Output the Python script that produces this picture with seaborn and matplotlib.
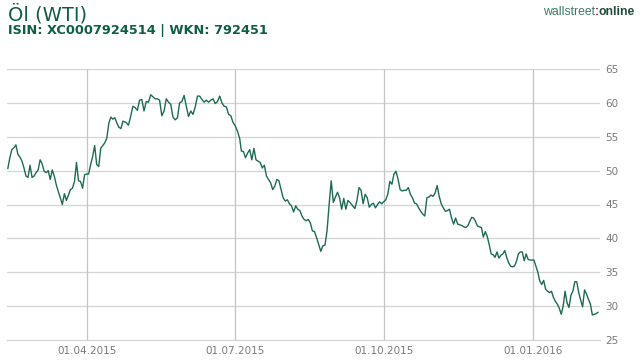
import matplotlib
matplotlib.use("Agg")
import matplotlib.pyplot as plt
import seaborn as sns
import pandas as pd

# ---- data, in five stretches of dates ----
seg_starts = ["2015-02-11", "2015-04-25", "2015-07-05", "2015-09-13", "2015-11-24"]
seg_ends = ["2015-04-23", "2015-07-04", "2015-09-10", "2015-11-23", "2016-02-10"]
prices_1 = [
    50.3, 51.9, 53.1, 53.35, 53.8, 52.4, 52.0, 51.4, 50.4, 49.2, 49.0, 50.8, 49.0, 49.2, 49.7,
    50.1, 51.6, 51.0, 49.9, 49.7, 50.0, 48.7, 50.1, 49.2, 47.9, 46.9, 46.0, 45.0, 46.6, 45.6,
    46.4, 47.2, 47.4, 48.4, 51.2, 48.5, 48.4, 47.4, 49.4, 49.5, 49.5, 50.9, 52.1, 53.7, 50.9,
    50.6, 53.3, 53.7, 54.1, 54.8, 57.0, 57.9, 57.6, 57.8, 57.0, 56.4, 56.2, 57.3,
]
prices_2 = [
    57.1, 56.7, 58.0, 59.5, 59.3, 58.9, 60.4, 60.5, 58.8, 60.2, 60.1, 61.2, 60.9, 60.6, 60.6,
    60.4, 58.1, 58.8, 60.6, 60.1, 59.8, 57.9, 57.5, 57.8, 60.0, 60.2, 61.1, 59.5, 58.0, 58.8,
    58.3, 59.4, 61.0, 61.0, 60.5, 60.1, 60.4, 60.1, 60.4, 60.6, 59.9, 60.2, 61.0, 60.0, 59.5,
    59.4, 58.3, 58.1, 57.1, 56.6, 55.8, 54.7,
]
prices_3 = [
    52.9, 52.8, 51.9, 52.6, 53.1, 51.6, 53.3, 51.6, 51.4, 51.2, 50.4, 50.8, 49.2, 48.7, 48.2,
    47.2, 47.7, 48.7, 48.5, 47.2, 46.0, 45.5, 45.7, 45.1, 44.8, 43.9, 44.8, 44.3, 44.1, 43.3,
    42.8, 42.6, 42.8, 42.3, 41.1, 41.0, 40.1, 39.1, 38.1, 38.9, 39.0, 41.1, 45.0, 48.5, 45.3,
    46.1, 46.8, 46.0, 44.3, 45.9, 44.3, 45.6, 45.3,
]
prices_4 = [
    44.4, 45.6, 47.5, 47.1, 45.1, 46.5, 46.0, 44.6, 45.0, 45.2, 44.5, 45.0, 45.4, 45.1, 45.4,
    45.7, 46.5, 48.4, 48.0, 49.5, 49.9, 48.7, 47.2, 47.0, 47.1, 47.1, 47.5, 46.5, 46.0, 45.2,
    45.1, 44.5, 44.0, 43.6, 43.3, 46.0, 46.1, 46.4, 46.2, 46.7, 47.8, 46.2, 45.1, 44.5, 44.0,
    44.1, 44.3, 43.0, 42.1, 43.0, 42.1, 42.0, 41.9, 41.7, 41.6, 41.9, 42.6,
]
prices_5 = [
    43.1, 43.0, 42.5, 41.8, 41.7, 41.6, 40.2, 41.0, 40.3, 39.1, 37.7, 37.6, 37.2, 38.0, 37.1,
    37.5, 37.7, 38.2, 37.2, 36.4, 35.9, 35.8, 35.9, 36.6, 37.7, 38.0, 38.0, 36.7, 37.7, 36.9,
    36.8, 36.8, 36.8, 35.9, 35.0, 33.7, 33.2, 33.8, 32.5, 32.2, 32.0, 32.2, 31.3, 30.7, 30.3,
    29.7, 28.8, 30.0, 32.2, 30.5, 29.8, 31.6, 32.2, 33.6, 33.6, 32.0, 30.9, 29.9, 32.4, 31.8,
    31.0, 30.3, 28.7, 28.8, 28.9, 29.1,
]
segments = [prices_1, prices_2, prices_3, prices_4, prices_5]

frames = []
for s, e, vals in zip(seg_starts, seg_ends, segments):
    frames.append(pd.DataFrame({"Datum": pd.date_range(s, e, periods=len(vals)), "Kurs": vals}))
df = pd.concat(frames, ignore_index=True)

y_ticks = [25, 30, 35, 40, 45, 50, 55, 60, 65]
x_ticks = ["2015-04-01", "2015-07-01", "2015-10-01", "2016-01-01"]
x_tick_labels = ["01.04.2015", "01.07.2015", "01.10.2015", "01.01.2016"]
title = "Öl (WTI)"
subtitle = "ISIN: XC0007924514 | WKN: 792451"

# ---- styling ----
sns.set_theme(style="white")
plt.rcParams["font.family"] = ["DejaVu Sans"]

GREEN = "#0e5e45"
LINE = "#1d6b55"
GRID = "#d4d4d4"
VGRID = "#c4c4c4"
TICK = "#7a7a7a"

fig = plt.figure(figsize=(6.44, 3.60), dpi=100)
ax = fig.add_axes([7 / 644, 20 / 360, 593 / 644, 271 / 360])

sns.lineplot(data=df, x="Datum", y="Kurs", ax=ax, color=LINE, linewidth=1.0)

ax.set_ylim(25, 65)
ax.set_xlim(pd.Timestamp("2015-02-10 12:00"), pd.Timestamp("2016-02-11 03:00"))

ax.set_yticks(y_ticks)
ax.yaxis.tick_right()
ax.tick_params(axis="y", length=0, pad=4, labelsize=7.5, labelcolor=TICK)
ax.set_xticks(pd.to_datetime(x_ticks))
ax.set_xticklabels(x_tick_labels)
ax.tick_params(axis="x", length=0, pad=4, labelsize=7.5, labelcolor=TICK)
ax.set_xlabel("")
ax.set_ylabel("")

ax.grid(False)
for v in y_ticks[1:]:
    ax.axhline(v, color=GRID, linewidth=0.9, zorder=0)
for d in x_ticks:
    ax.axvline(pd.Timestamp(d), color=VGRID, linewidth=0.9, zorder=0)

for s in ["top", "right", "left"]:
    ax.spines[s].set_visible(False)
ax.spines["bottom"].set_color(GRID)
ax.spines["bottom"].set_linewidth(0.9)

# ---- header ----
fig.text(8 / 644, 1 - 14 / 360, title, fontsize=14, color=GREEN, va="center", ha="left")
fig.text(8 / 644, 1 - 30.5 / 360, subtitle, fontsize=9.3, color=GREEN, va="center",
         ha="left", fontweight="bold")

# logo: wallstreet:online
renderer = fig.canvas.get_renderer()
t3 = fig.text(635 / 644, 1 - 12 / 360, "online", fontsize=8.8, color="#1f4d3a",
              fontweight="bold", ha="right", va="center", family="Liberation Sans")
bb = t3.get_window_extent(renderer)
t2 = fig.text(bb.x0 / 644, 1 - 12 / 360, ":", fontsize=8.8, color="#c8102e",
              fontweight="bold", ha="right", va="center", family="Liberation Sans")
bb2 = t2.get_window_extent(renderer)
fig.text(bb2.x0 / 644, 1 - 12 / 360, "wallstreet", fontsize=8.8, color="#3d7a62",
         ha="right", va="center", family="Liberation Sans")

fig.savefig("out.png", dpi=100)
